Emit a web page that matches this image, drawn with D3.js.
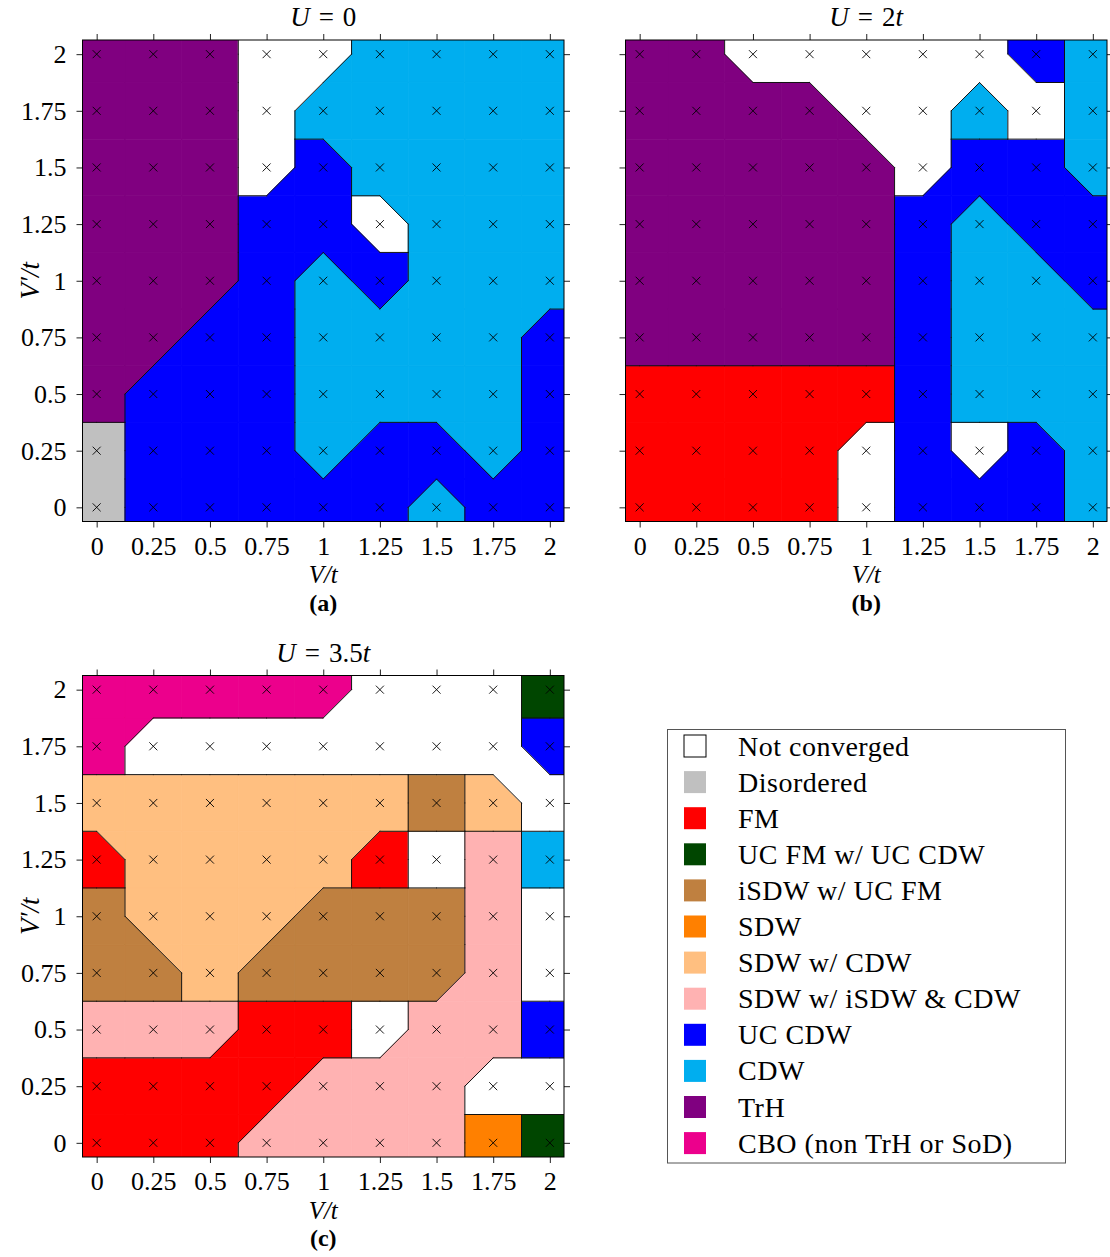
<!DOCTYPE html>
<html>
<head>
<meta charset="utf-8">
<script src="https://cdn.jsdelivr.net/npm/d3@7"></script>
<style>
  body { margin: 0; background: #fff; }
  text { font-family: "Liberation Serif", "Times New Roman", serif; fill: #000; }
</style>
</head>
<body>
<svg id="fig" width="1110" height="1257"></svg>
<script>
// phases, in legend order
var phaseCodes = ["N", "D", "F", "G", "I", "S", "L", "K", "B", "C", "P", "M"];
var phaseNames = ["Not converged", "Disordered", "FM", "UC FM w/ UC CDW", "iSDW w/ UC FM", "SDW",
  "SDW w/ CDW", "SDW w/ iSDW & CDW", "UC CDW", "CDW", "TrH", "CBO (non TrH or SoD)"];
var phaseColors = ["#ffffff", "#c0c0c0", "#ff0000", "#004600", "#bf8040", "#ff8000",
  "#ffbf80", "#ffb2b2", "#0000ff", "#00aeef", "#800080", "#ec008c"];

var gridValues = [0, 0.25, 0.5, 0.75, 1, 1.25, 1.5, 1.75, 2];
var tickLabels = ["0", "0.25", "0.5", "0.75", "1", "1.25", "1.5", "1.75", "2"];

// one string per row, V'/t = 2 at the top down to 0, columns V/t = 0..2
var gridA = [
  "PPPNNCCCC",
  "PPPNCCCCC",
  "PPPNBCCCC",
  "PPPBBNCCC",
  "PPPBCBCCC",
  "PPBBCCCCB",
  "PBBBCCCCB",
  "DBBBCBBCB",
  "DBBBBBCBB"
];
var gridB = [
  "PPNNNNNBC",
  "PPPPNNCNC",
  "PPPPPNBBC",
  "PPPPPBCBB",
  "PPPPPBCCB",
  "PPPPPBCCC",
  "FFFFFBCCC",
  "FFFFNBNBC",
  "FFFFNBBBC"
];
var gridC = [
  "MMMMMNNNG",
  "MNNNNNNNB",
  "LLLLLLILN",
  "FLLLLFNKC",
  "ILLLIIIKN",
  "IILIIIIKN",
  "KKKFFNKKB",
  "FFFFKKKNN",
  "FFFKKKKSG"
];

var svg = d3.select("#fig");
var size = 481.5;
var h = 0.125;
var n = gridValues.length;
var color = d3.scaleOrdinal().domain(phaseCodes).range(phaseColors);

function phaseAt(grid, i, j) {
  if (i < 0 || j < 0 || i >= n || j >= n) return null;
  return grid[n - 1 - j][i];
}

// corner of cell (i,j) pointing to (dx,dy) gets cut when its two neighbours there agree
function chamfered(grid, i, j, dx, dy) {
  var c = phaseAt(grid, i, j);
  var a1 = phaseAt(grid, i + dx, j);
  var a2 = phaseAt(grid, i, j + dy);
  if (c == null || a1 == null || a1 !== a2 || a1 === c) return false;
  if (phaseAt(grid, i + dx, j + dy) === c) return dx === dy;
  return true;
}

function drawPanel(grid, left, top, id, title, caption, yLabels) {
  var x = d3.scaleLinear().domain([-0.0625, 2.0625]).range([0, size]);
  var y = d3.scaleLinear().domain([-0.0625, 2.0625]).range([size, 0]);
  var g = svg.append("g").attr("transform", `translate(${left},${top})`);

  g.append("clipPath").attr("id", "clip" + id)
    .append("rect").attr("width", size).attr("height", size);
  var plot = g.append("g").attr("clip-path", `url(#clip${id})`);

  var line = d3.line().x(d => x(d[0])).y(d => y(d[1]));
  var corners = [[1, 1], [-1, 1], [-1, -1], [1, -1]];
  var cells = [], tris = [];
  for (var i = 0; i < n; i++) {
    for (var j = 0; j < n; j++) {
      var v = gridValues[i], w = gridValues[j];
      var pts = [];
      corners.forEach(function(c, k) {
        var dx = c[0], dy = c[1];
        if (chamfered(grid, i, j, dx, dy)) {
          var pH = [v + dx * h, w], pV = [v, w + dy * h];
          if (k % 2 === 0) pts.push(pH, pV); else pts.push(pV, pH);
          tris.push({ p: phaseAt(grid, i + dx, j), pts: [[v + dx * h, w + dy * h], pH, pV] });
        } else {
          pts.push([v + dx * h, w + dy * h]);
        }
      });
      cells.push({ p: phaseAt(grid, i, j), pts: pts });
    }
  }
  plot.selectAll("path.cell").data(cells.concat(tris)).enter().append("path")
    .attr("class", "cell")
    .attr("d", d => line(d.pts) + "Z")
    .attr("fill", d => color(d.p))
    .attr("stroke", d => color(d.p))
    .attr("stroke-width", 0.8);

  // boundary segments around every junction
  var segs = [];
  for (var i = -1; i < n; i++) {
    for (var j = -1; j < n; j++) {
      var jx = i * 0.25 + h, jy = j * 0.25 + h;
      var BL = phaseAt(grid, i, j), BR = phaseAt(grid, i + 1, j);
      var TL = phaseAt(grid, i, j + 1), TR = phaseAt(grid, i + 1, j + 1);
      var cBL = chamfered(grid, i, j, 1, 1), cBR = chamfered(grid, i + 1, j, -1, 1);
      var cTL = chamfered(grid, i, j + 1, 1, -1), cTR = chamfered(grid, i + 1, j + 1, -1, -1);
      function spoke(a, b, ca, cb, p0, p1) {
        if (a != null && b != null && a !== b && !ca && !cb) segs.push([p0, p1]);
      }
      spoke(BR, TR, cBR, cTR, [jx, jy], [jx + h, jy]);
      spoke(BL, TL, cBL, cTL, [jx - h, jy], [jx, jy]);
      spoke(TL, TR, cTL, cTR, [jx, jy], [jx, jy + h]);
      spoke(BL, BR, cBL, cBR, [jx, jy - h], [jx, jy]);
      if (cBL) segs.push([[jx - h, jy], [jx, jy - h]]);
      if (cBR) segs.push([[jx + h, jy], [jx, jy - h]]);
      if (cTL) segs.push([[jx - h, jy], [jx, jy + h]]);
      if (cTR) segs.push([[jx + h, jy], [jx, jy + h]]);
    }
  }
  plot.selectAll("path.edge").data(segs).enter().append("path")
    .attr("class", "edge")
    .attr("d", d => line(d))
    .attr("fill", "none")
    .attr("stroke", "#111")
    .attr("stroke-width", 1)
    .attr("stroke-linecap", "round");

  // markers at every computed point
  var pts = [];
  gridValues.forEach(a => gridValues.forEach(b => pts.push([a, b])));
  plot.selectAll("path.mark").data(pts).enter().append("path")
    .attr("class", "mark")
    .attr("transform", d => `translate(${x(d[0])},${y(d[1])})`)
    .attr("d", "M-4,-4L4,4M-4,4L4,-4")
    .attr("stroke", "#000")
    .attr("stroke-width", 0.9);

  // axes, ticks outwards on all four sides
  var fmt = (d, k) => tickLabels[k];
  var none = () => "";
  var xb = g.append("g").attr("transform", `translate(0,${size})`)
    .call(d3.axisBottom(x).tickValues(gridValues).tickFormat(fmt).tickSize(6).tickSizeOuter(0).tickPadding(9));
  var xt = g.append("g").call(d3.axisTop(x).tickValues(gridValues).tickFormat(none).tickSize(6).tickSizeOuter(0));
  var yl = g.append("g")
    .call(d3.axisLeft(y).tickValues(gridValues).tickFormat(yLabels ? fmt : none).tickSize(6).tickSizeOuter(0).tickPadding(10));
  var yr = g.append("g").attr("transform", `translate(${size},0)`)
    .call(d3.axisRight(y).tickValues(gridValues).tickFormat(none).tickSize(6).tickSizeOuter(0));
  [xb, xt, yl, yr].forEach(function(a) {
    a.select(".domain").remove();
    a.selectAll(".tick line").attr("stroke", "#222").attr("stroke-width", 1);
    a.selectAll(".tick text").attr("font-size", 26).attr("font-family", "Liberation Serif, serif");
  });

  g.append("rect").attr("width", size).attr("height", size)
    .attr("fill", "none").attr("stroke", "#000").attr("stroke-width", 1);

  // title, axis labels, caption
  var t = g.append("text").attr("x", size / 2).attr("y", -14)
    .attr("text-anchor", "middle").attr("font-size", 27);
  t.append("tspan").attr("font-style", "italic").text("U");
  t.append("tspan").text("\u2004=\u2004" + title[0]);
  if (title[1]) t.append("tspan").attr("font-style", "italic").text(title[1]);

  g.append("text").attr("x", size / 2).attr("y", size + 61.5)
    .attr("text-anchor", "middle").attr("font-size", 25).attr("font-style", "italic")
    .text("V/t");
  if (yLabels) {
    g.append("text")
      .attr("transform", `translate(-44,${size / 2}) rotate(-90)`)
      .attr("text-anchor", "middle").attr("font-size", 27).attr("font-style", "italic")
      .text("V\u2032/t");
  }
  g.append("text").attr("x", size / 2).attr("y", size + 89)
    .attr("text-anchor", "middle").attr("font-size", 24).attr("font-weight", "bold")
    .text(caption);
}

drawPanel(gridA, 82.5, 40, "a", ["0", ""], "(a)", true);
drawPanel(gridB, 625.5, 40, "b", ["2", "t"], "(b)", false);
drawPanel(gridC, 82.5, 675.5, "c", ["3.5", "t"], "(c)", true);

// legend
var legend = svg.append("g").attr("transform", "translate(667.5,729.5)");
legend.append("rect").attr("width", 398).attr("height", 433.5)
  .attr("fill", "#fff").attr("stroke", "#555").attr("stroke-width", 1);
var item = legend.selectAll("g.item").data(phaseCodes).enter().append("g")
  .attr("class", "item")
  .attr("transform", (d, k) => `translate(0,${16.5 + 36.1 * k})`);
item.append("rect")
  .attr("x", 16.5).attr("y", -11).attr("width", 22).attr("height", 22)
  .attr("fill", d => color(d))
  .attr("stroke", d => d === "N" ? "#000" : "none")
  .attr("stroke-width", 1);
item.append("text")
  .attr("x", 70.5).attr("y", 9.5)
  .attr("font-size", 28)
  .attr("letter-spacing", 0.5)
  .text((d, k) => phaseNames[k]);
</script>
</body>
</html>
